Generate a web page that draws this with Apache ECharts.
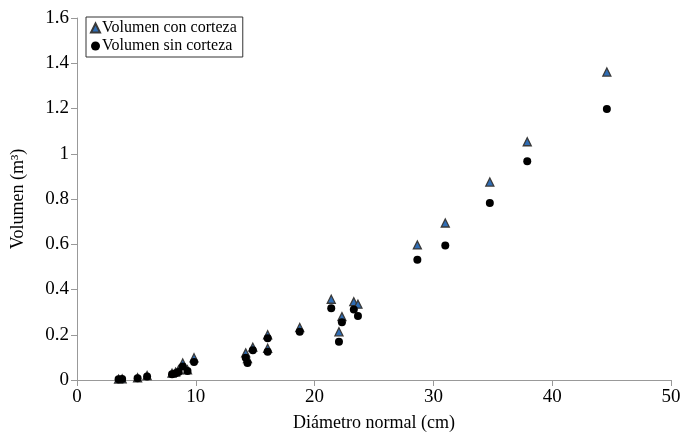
<!DOCTYPE html>
<html>
<head>
    <meta charset="UTF-8">
    <title>Volumen vs diámetro</title>
    <script src="https://cdn.jsdelivr.net/npm/echarts@6/dist/echarts.min.js"></script>
    <style>
        html, body { margin: 0; padding: 0; background: #fff; }
        #chart { width: 696px; height: 433px; }
    </style>
</head>
<body>
<div id="chart"></div>
<script>
    // diámetro normal (cm)
    var diametro = [3.5, 3.8, 5.1, 5.9, 8.0, 8.3, 8.55, 8.9, 9.3, 9.85,
        14.2, 14.35, 14.8, 16.05, 16.05, 18.75, 21.4, 22.05, 22.3, 23.3, 23.65,
        28.65, 31.0, 34.75, 37.9, 44.6];
    // volumen con corteza (m3)
    var conCorteza = [0.004, 0.005, 0.01, 0.02, 0.03, 0.035, 0.045, 0.075, 0.045, 0.098,
        0.12, 0.095, 0.145, 0.2, 0.14, 0.232, 0.357, 0.213, 0.28, 0.346, 0.335,
        0.597, 0.694, 0.875, 1.053, 1.361];
    // volumen sin corteza (m3)
    var sinCorteza = [0.003, 0.004, 0.008, 0.015, 0.025, 0.03, 0.035, 0.06, 0.04, 0.08,
        0.098, 0.075, 0.132, 0.184, 0.125, 0.213, 0.317, 0.169, 0.255, 0.312, 0.283,
        0.532, 0.594, 0.782, 0.967, 1.198];

    function pares(ys) {
        return diametro.map(function (d, i) { return [d, ys[i]]; });
    }

    var serif = '"Liberation Serif", "DejaVu Serif", serif';
    var chart = echarts.init(document.getElementById('chart'));
    chart.setOption({
        animation: false,
        textStyle: { fontFamily: serif },
        grid: { left: 77, right: 25, top: 18, bottom: 53, outerBoundsMode: 'none', containLabel: false },
        legend: {
            orient: 'vertical',
            left: 86, top: 17,
            padding: [3, 6, 3, 4],
            itemGap: 2,
            itemWidth: 9, itemHeight: 9,
            borderColor: '#333', borderWidth: 1,
            textStyle: { fontFamily: serif, fontSize: 16, color: '#000', padding: [0, 0, 0, -3] },
            data: [
                { name: 'Volumen con corteza', icon: 'triangle' },
                { name: 'Volumen sin corteza', icon: 'circle' }
            ]
        },
        xAxis: {
            type: 'value', min: 0, max: 50, interval: 10,
            name: 'Diámetro normal (cm)', nameLocation: 'middle', nameGap: 34,
            nameTextStyle: { fontFamily: serif, fontSize: 18, color: '#000' },
            axisLine: { lineStyle: { color: '#999' } },
            axisTick: { length: 6, lineStyle: { color: '#999' } },
            axisLabel: { fontFamily: serif, fontSize: 19, color: '#000', margin: 8 },
            splitLine: { show: false }
        },
        yAxis: {
            type: 'value', min: 0, max: 1.6, interval: 0.2,
            name: 'Volumen (m³)', nameLocation: 'middle', nameGap: 50,
            nameTextStyle: { fontFamily: serif, fontSize: 18, color: '#000' },
            axisLine: { show: true, lineStyle: { color: '#999' } },
            axisTick: { show: true, length: 6, lineStyle: { color: '#999' } },
            axisLabel: { fontFamily: serif, fontSize: 19, color: '#000', margin: 8 },
            splitLine: { show: false }
        },
        series: [
            {
                name: 'Volumen con corteza', type: 'scatter',
                symbol: 'triangle', symbolSize: 8,
                itemStyle: { color: '#2f6db5', borderColor: '#3a3a3a', borderWidth: 1.3, opacity: 1 },
                data: pares(conCorteza)
            },
            {
                name: 'Volumen sin corteza', type: 'scatter',
                symbol: 'circle', symbolSize: 8,
                itemStyle: { color: '#000', opacity: 1 },
                data: pares(sinCorteza)
            }
        ]
    });
</script>
</body>
</html>
